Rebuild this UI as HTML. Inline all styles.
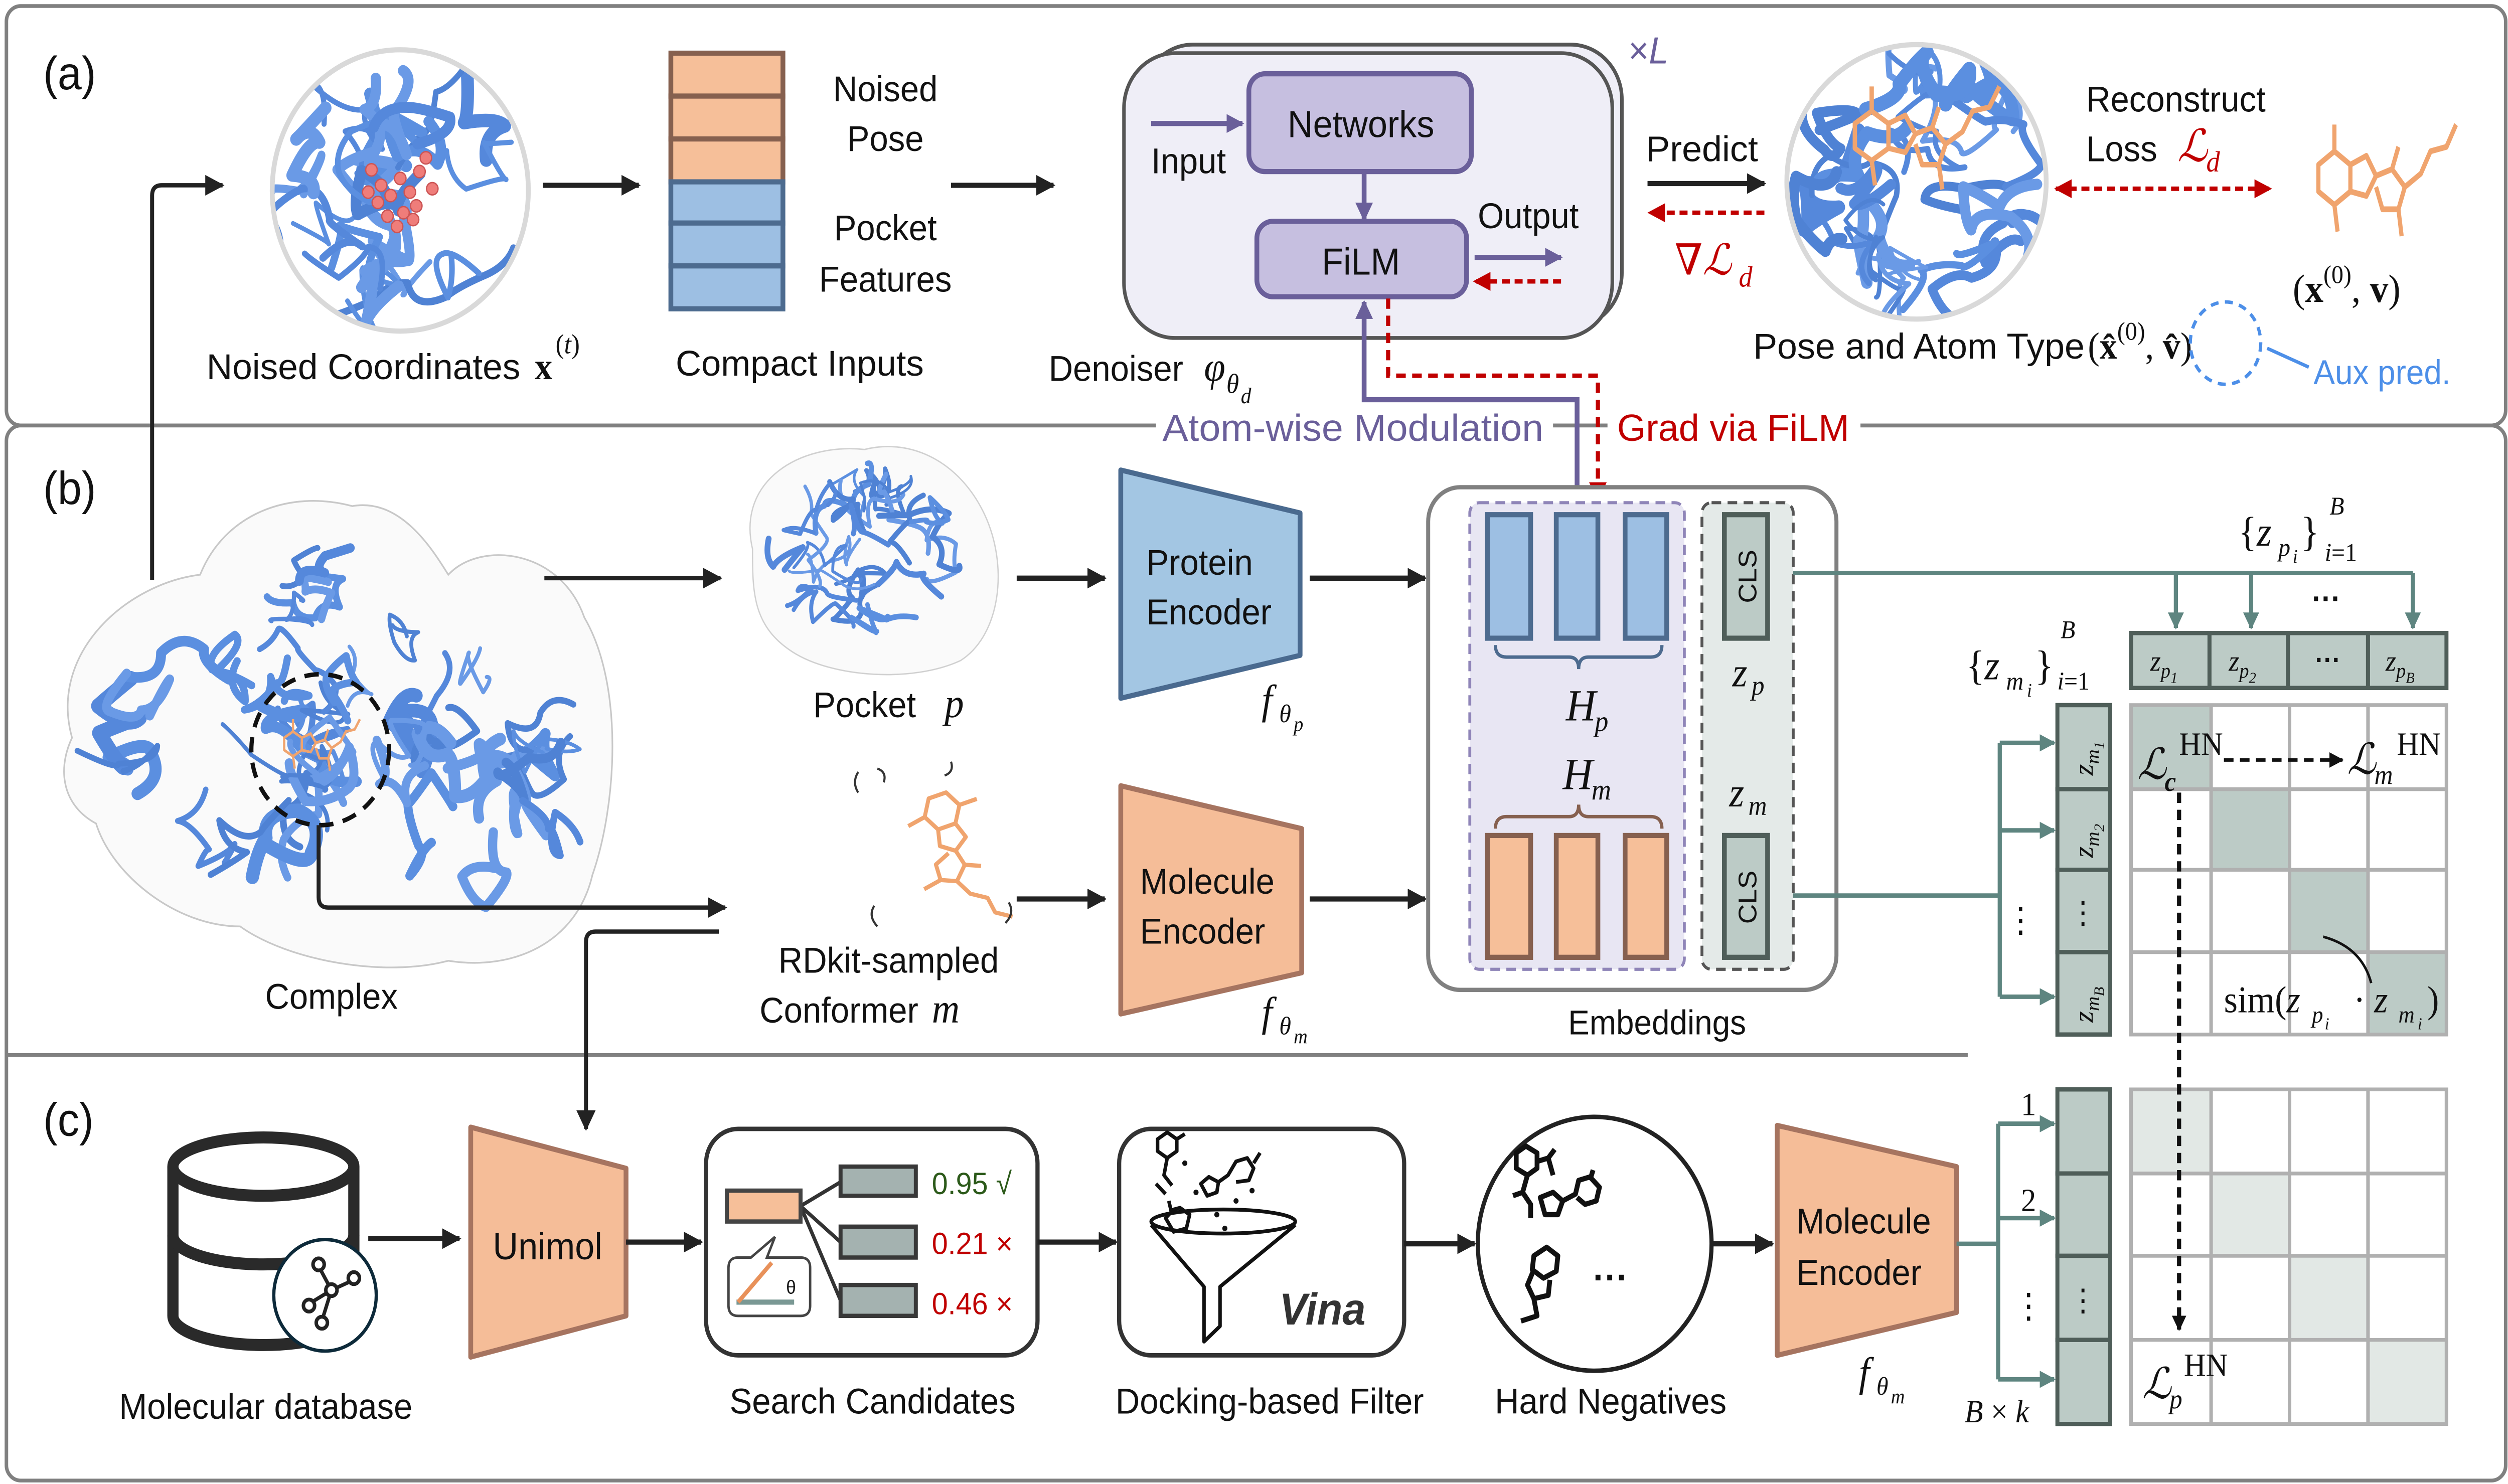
<!DOCTYPE html>
<html><head><meta charset="utf-8">
<style>
html,body{margin:0;padding:0;background:#fff;width:5005px;height:2959px;overflow:hidden;}
svg{display:block;position:absolute;left:0;top:0;width:5005px;height:2959px;}
text{font-family:"Liberation Sans",sans-serif;fill:#111;}
.s{font-family:"Liberation Serif","DejaVu Serif",serif;}
.i{font-style:italic;}
</style></head>
<body>
<svg id="sv" width="5005" height="2959" viewBox="0 0 1568 865" preserveAspectRatio="none" xmlns="http://www.w3.org/2000/svg">
<defs>
<marker id="ab" viewBox="0 0 10 10" refX="9" refY="5" markerWidth="12" markerHeight="13" markerUnits="userSpaceOnUse" orient="auto"><path d="M0,0 L10,5 L0,10 z" fill="#222"/></marker>
<marker id="abs" viewBox="0 0 10 10" refX="9" refY="5" markerWidth="9" markerHeight="9" markerUnits="userSpaceOnUse" orient="auto"><path d="M0,0 L10,5 L0,10 z" fill="#111"/></marker>
<marker id="ar" viewBox="0 0 10 10" refX="9" refY="5" markerWidth="11" markerHeight="12" markerUnits="userSpaceOnUse" orient="auto-start-reverse"><path d="M0,0 L10,5 L0,10 z" fill="#c00000"/></marker>
<marker id="ap" viewBox="0 0 10 10" refX="9" refY="5" markerWidth="11" markerHeight="12" markerUnits="userSpaceOnUse" orient="auto"><path d="M0,0 L10,5 L0,10 z" fill="#6a5f9a"/></marker>
<marker id="at" viewBox="0 0 10 10" refX="9" refY="5" markerWidth="10" markerHeight="10" markerUnits="userSpaceOnUse" orient="auto"><path d="M0,0 L10,5 L0,10 z" fill="#5e8580"/></marker>
<clipPath id="c1"><ellipse cx="250" cy="111" rx="79" ry="81"/></clipPath>
<clipPath id="c2"><ellipse cx="1197" cy="106" rx="80" ry="79"/></clipPath>
<g id="lig"><path d="M10,20 L20,14 L30,20 L30,32 L20,38 L10,32 Z M30,20 L40,16 L46,25 L40,34 L30,32 M20,14 L20,2 M46,25 L56,22 L64,30 L60,40 L50,40 L46,30 M56,22 L60,12 M64,30 L74,24 L80,14 L90,12 L96,2 M20,38 L22,50 M60,40 L62,52" fill="none" stroke="#f0a46e" stroke-width="2.6" stroke-linejoin="round"/></g>
</defs>

<rect x="4" y="3.5" width="1561" height="244.5" rx="9" fill="none" stroke="#808080" stroke-width="2.2"/>
<rect x="4" y="248" width="1561" height="615" rx="9" fill="none" stroke="#808080" stroke-width="2.2"/>
<line x1="4" y1="615" x2="1229" y2="615" stroke="#808080" stroke-width="2.2"/>
<rect x="722" y="238" width="248" height="22" fill="#fff"/>
<rect x="1004" y="238" width="158" height="22" fill="#fff"/>

<text x="27" y="52" font-size="27">(a)</text>
<text x="27" y="294" font-size="27">(b)</text>
<text x="27" y="662" font-size="27">(c)</text>

<!-- (a) -->
<g id="prot1" clip-path="url(#c1)"></g>
<ellipse cx="250" cy="111" rx="80" ry="82" fill="none" stroke="#d9d9d9" stroke-width="3"/>
<g fill="#ef7d7a" stroke="#c55" stroke-width="0.8">
<circle cx="232" cy="99" r="3.6"/><circle cx="238" cy="108" r="3.6"/><circle cx="244" cy="114" r="3.6"/><circle cx="250" cy="104" r="3.6"/><circle cx="256" cy="112" r="3.6"/><circle cx="262" cy="100" r="3.6"/><circle cx="266" cy="92" r="3.6"/><circle cx="260" cy="120" r="3.6"/><circle cx="252" cy="124" r="3.6"/><circle cx="242" cy="126" r="3.6"/><circle cx="236" cy="118" r="3.6"/><circle cx="248" cy="132" r="3.6"/><circle cx="258" cy="128" r="3.6"/><circle cx="270" cy="110" r="3.6"/><circle cx="230" cy="112" r="3.6"/>
</g>
<path d="M95,338 V114 Q95,108 101,108 H139" fill="none" stroke="#222" stroke-width="2.5" marker-end="url(#ab)"/>
<line x1="339" y1="108" x2="399" y2="108" stroke="#222" stroke-width="3" marker-end="url(#ab)"/>
<g stroke-width="3">
<rect x="419" y="31" width="70" height="25" fill="#f6bf99" stroke="#86604f"/>
<rect x="419" y="56" width="70" height="25" fill="#f6bf99" stroke="#86604f"/>
<rect x="419" y="81" width="70" height="25" fill="#f6bf99" stroke="#86604f"/>
<rect x="419" y="106" width="70" height="24" fill="#9dbfe3" stroke="#4d6b8f"/>
<rect x="419" y="130" width="70" height="25" fill="#9dbfe3" stroke="#4d6b8f"/>
<rect x="419" y="155" width="70" height="25" fill="#9dbfe3" stroke="#4d6b8f"/>
</g>
<g font-size="21" text-anchor="middle">
<text x="553" y="59">Noised</text><text x="553" y="88">Pose</text>
<text x="553" y="140">Pocket</text><text x="553" y="170">Features</text>
</g>
<text x="129" y="221" font-size="21" textLength="196" lengthAdjust="spacingAndGlyphs">Noised Coordinates</text>
<text x="334" y="221" font-size="22" class="s" font-weight="bold">x</text>
<text x="347" y="206" font-size="16" class="s">(<tspan class="i">t</tspan>)</text>
<text x="422" y="219" font-size="21" textLength="155" lengthAdjust="spacingAndGlyphs">Compact Inputs</text>
<line x1="594" y1="108" x2="658" y2="108" stroke="#222" stroke-width="3" marker-end="url(#ab)"/>

<rect x="713" y="26" width="300" height="165" rx="32" fill="#efeef7" stroke="#555" stroke-width="2.2"/>
<rect x="702" y="31" width="305" height="166" rx="32" fill="#efeef7" stroke="#555" stroke-width="2.2"/>
<text x="1017" y="37" font-size="22" style="fill:#6a5f9a">×<tspan font-style="italic">L</tspan></text>
<rect x="780" y="43" width="139" height="57" rx="10" fill="#c6bfe0" stroke="#6a5f9a" stroke-width="3"/>
<text x="850" y="80" font-size="22" text-anchor="middle">Networks</text>
<rect x="785" y="129" width="131" height="44" rx="10" fill="#c6bfe0" stroke="#6a5f9a" stroke-width="3"/>
<text x="850" y="160" font-size="22" text-anchor="middle">FiLM</text>
<line x1="852" y1="100" x2="852" y2="128" stroke="#6a5f9a" stroke-width="3" marker-end="url(#ap)"/>
<line x1="719" y1="72" x2="776" y2="72" stroke="#6a5f9a" stroke-width="3" marker-end="url(#ap)"/>
<text x="719" y="101" font-size="21">Input</text>
<line x1="921" y1="150" x2="975" y2="150" stroke="#6a5f9a" stroke-width="3" marker-end="url(#ap)"/>
<text x="923" y="133" font-size="21">Output</text>
<line x1="975" y1="164" x2="921" y2="164" stroke="#c00000" stroke-width="2.6" stroke-dasharray="5,3" marker-end="url(#ar)"/>
<text x="655" y="222" font-size="21">Denoiser</text>
<text x="752" y="222" font-size="24" class="s i">φ</text>
<text x="766" y="229" font-size="16" class="s i">θ</text>
<text x="775" y="235" font-size="13" class="s i">d</text>

<text x="1028" y="94" font-size="21" textLength="70" lengthAdjust="spacingAndGlyphs">Predict</text>
<line x1="1029" y1="107" x2="1102" y2="107" stroke="#222" stroke-width="3" marker-end="url(#ab)"/>
<line x1="1102" y1="124" x2="1030" y2="124" stroke="#c00000" stroke-width="2.6" stroke-dasharray="5,3" marker-end="url(#ar)"/>
<text x="1046" y="160" font-size="25" class="s" style="fill:#c00000">∇<tspan font-style="italic">ℒ</tspan></text>
<text x="1086" y="167" font-size="17" class="s i" style="fill:#c00000">d</text>

<g id="prot2" clip-path="url(#c2)"></g>
<use href="#lig" transform="translate(1148,48) scale(1.05,1.2)"/>
<ellipse cx="1197" cy="106" rx="81" ry="80" fill="none" stroke="#d9d9d9" stroke-width="3"/>
<text x="1303" y="65" font-size="21">Reconstruct</text>
<text x="1303" y="94" font-size="21">Loss</text>
<text x="1360" y="94" font-size="26" class="s i" style="fill:#c00000">ℒ</text>
<text x="1378" y="100" font-size="17" class="s i" style="fill:#c00000">d</text>
<line x1="1284" y1="110" x2="1418" y2="110" stroke="#c00000" stroke-width="2.6" stroke-dasharray="5,3" marker-start="url(#ar)" marker-end="url(#ar)"/>
<use href="#lig" transform="translate(1438,70) scale(1,1.3)"/>
<text x="1432" y="176" font-size="23" class="s"><tspan>(</tspan><tspan font-weight="bold">x</tspan><tspan font-size="15" dy="-11">(0)</tspan><tspan dy="11">, </tspan><tspan font-weight="bold">v</tspan>)</text>
<text x="1095" y="209" font-size="21" textLength="207" lengthAdjust="spacingAndGlyphs">Pose and Atom Type</text>
<text x="1304" y="209" font-size="22" class="s">(<tspan font-weight="bold">x̂</tspan><tspan font-size="15" dy="-11">(0)</tspan><tspan dy="11">, </tspan><tspan font-weight="bold">v̂</tspan>)</text>
<ellipse cx="1390" cy="200" rx="22" ry="24" fill="none" stroke="#4d8fe8" stroke-width="2" stroke-dasharray="5,4"/>
<line x1="1416" y1="203" x2="1442" y2="214" stroke="#4d8fe8" stroke-width="2"/>
<text x="1445" y="224" font-size="20" style="fill:#4d8fe8">Aux pred.</text>

<path d="M985,292 V233 H852 V176" fill="none" stroke="#6a5f9a" stroke-width="3" marker-end="url(#ap)"/>
<path d="M867,174 V219 H998 V291" fill="none" stroke="#c00000" stroke-width="2.6" stroke-dasharray="6,4" marker-end="url(#ar)"/>
<text x="726" y="257" font-size="22" textLength="238" lengthAdjust="spacingAndGlyphs" style="fill:#6a5f9a">Atom-wise Modulation</text>
<text x="1010" y="257" font-size="22" textLength="145" lengthAdjust="spacingAndGlyphs" style="fill:#c00000">Grad via FiLM</text>

<!-- (b) -->
<path d="M45,430 C30,380 80,340 125,335 C140,300 180,285 220,295 C250,290 270,320 280,335 C300,315 350,320 365,360 C390,400 385,470 370,510 C360,550 320,566 280,560 C240,570 180,560 150,540 C110,540 70,510 60,480 C40,470 35,450 45,430 Z" fill="#fafafa" stroke="#c8c8c8" stroke-width="1"/>
<g id="prot3"></g>
<use href="#lig" transform="translate(172,418) scale(0.55,0.6)"/>
<ellipse cx="200" cy="437" rx="43" ry="44" fill="none" stroke="#111" stroke-width="2.6" stroke-dasharray="9,6"/>
<text x="207" y="588" font-size="21" text-anchor="middle">Complex</text>
<path d="M199,481 V523 Q199,529 205,529 H453" fill="none" stroke="#222" stroke-width="2.5" marker-end="url(#ab)"/>
<path d="M449,543 H372 Q366,543 366,549 V658" fill="none" stroke="#222" stroke-width="2.5" marker-end="url(#ab)"/>
<line x1="340" y1="337" x2="450" y2="337" stroke="#222" stroke-width="2.5" marker-end="url(#ab)"/>

<path d="M470,320 C460,280 500,258 540,262 C570,255 600,270 615,300 C630,330 625,370 600,385 C570,398 520,395 495,380 C470,365 470,345 470,320 Z" fill="#fafafa" stroke="#d0d0d0" stroke-width="0.8"/>
<g id="prot4"></g>
<text x="540" y="418" font-size="21" text-anchor="middle">Pocket</text>
<text x="590" y="418" font-size="24" class="s i">p</text>

<line x1="635" y1="337" x2="690" y2="337" stroke="#222" stroke-width="3" marker-end="url(#ab)"/>
<polygon points="700,274 812,299 812,382 700,407" fill="#a3c6e3" stroke="#4a6a8f" stroke-width="3" stroke-linejoin="round"/>
<text x="716" y="335" font-size="21">Protein</text>
<text x="716" y="364" font-size="21">Encoder</text>
<text x="788" y="416" font-size="24" class="s i">f</text>
<text x="799" y="421" font-size="15" class="s i">θ</text><text x="808" y="426" font-size="12" class="s i">p</text>
<line x1="818" y1="337" x2="890" y2="337" stroke="#222" stroke-width="3" marker-end="url(#ab)"/>

<use href="#lig" transform="translate(606,447) rotate(72) scale(0.95)"/>
<g fill="none" stroke="#333" stroke-width="1.3">
<path d="M536,462 q-4,-6 0,-12 M548,448 q6,2 4,8"/>
<path d="M590,452 q6,-2 4,-8"/>
<path d="M546,528 q-4,6 2,12 M630,526 q4,6 -2,12"/>
</g>
<line x1="635" y1="524" x2="690" y2="524" stroke="#222" stroke-width="3" marker-end="url(#ab)"/>
<text x="555" y="567" font-size="21" text-anchor="middle">RDkit-sampled</text>
<text x="524" y="596" font-size="21" text-anchor="middle">Conformer</text>
<text x="582" y="596" font-size="24" class="s i">m</text>
<polygon points="700,458 813,483 813,567 700,591" fill="#f5bd98" stroke="#a67460" stroke-width="3" stroke-linejoin="round"/>
<text x="712" y="521" font-size="21">Molecule</text>
<text x="712" y="550" font-size="21">Encoder</text>
<text x="788" y="598" font-size="24" class="s i">f</text>
<text x="799" y="603" font-size="15" class="s i">θ</text><text x="808" y="608" font-size="12" class="s i">m</text>
<line x1="818" y1="524" x2="890" y2="524" stroke="#222" stroke-width="3" marker-end="url(#ab)"/>

<rect x="892" y="284" width="255" height="293" rx="20" fill="#fff" stroke="#808080" stroke-width="2.5"/>
<rect x="918" y="293" width="134" height="272" rx="6" fill="#e8e6f3" stroke="#8f85b8" stroke-width="1.8" stroke-dasharray="6,4"/>
<rect x="1063" y="293" width="57" height="272" rx="6" fill="#e4eae8" stroke="#555" stroke-width="1.8" stroke-dasharray="6,4"/>
<g stroke-width="3">
<rect x="929" y="300" width="27" height="72" fill="#9dbfe3" stroke="#4d6b8f"/>
<rect x="972" y="300" width="26" height="72" fill="#9dbfe3" stroke="#4d6b8f"/>
<rect x="1015" y="300" width="26" height="72" fill="#9dbfe3" stroke="#4d6b8f"/>
<rect x="929" y="487" width="27" height="71" fill="#f6bf99" stroke="#86604f"/>
<rect x="972" y="487" width="26" height="71" fill="#f6bf99" stroke="#86604f"/>
<rect x="1015" y="487" width="26" height="71" fill="#f6bf99" stroke="#86604f"/>
<rect x="1077" y="300" width="27" height="72" fill="#bccbc6" stroke="#4f5e59"/>
<rect x="1077" y="487" width="27" height="71" fill="#bccbc6" stroke="#4f5e59"/>
</g>
<text transform="translate(1097,336) rotate(-90)" font-size="16" text-anchor="middle">CLS</text>
<text transform="translate(1097,523) rotate(-90)" font-size="16" text-anchor="middle">CLS</text>
<path d="M934,376 Q934,383 941,383 H980 Q986,383 986,390 Q986,383 992,383 H1031 Q1038,383 1038,376" fill="none" stroke="#4d6b8f" stroke-width="2"/>
<path d="M934,483 Q934,476 941,476 H980 Q986,476 986,469 Q986,476 992,476 H1031 Q1038,476 1038,483" fill="none" stroke="#86604f" stroke-width="2"/>
<text x="978" y="420" font-size="26" class="s i">H</text><text x="996" y="426" font-size="17" class="s i">p</text>
<text x="976" y="460" font-size="26" class="s i">H</text><text x="994" y="466" font-size="17" class="s i">m</text>
<text x="1082" y="400" font-size="24" class="s i">z</text><text x="1094" y="405" font-size="16" class="s i">p</text>
<text x="1080" y="470" font-size="24" class="s i">z</text><text x="1092" y="475" font-size="16" class="s i">m</text>
<text x="1035" y="603" font-size="20" text-anchor="middle">Embeddings</text>

<g fill="none" stroke="#5e8580" stroke-width="2.6">
<path d="M1120,334 H1507"/>
<line x1="1359" y1="334" x2="1359" y2="366" marker-end="url(#at)"/>
<line x1="1406" y1="334" x2="1406" y2="366" marker-end="url(#at)"/>
<line x1="1507" y1="334" x2="1507" y2="366" marker-end="url(#at)"/>
<path d="M1120,522 H1249"/>
<path d="M1249,433 V581"/>
<line x1="1249" y1="433" x2="1283" y2="433" marker-end="url(#at)"/>
<line x1="1249" y1="484" x2="1283" y2="484" marker-end="url(#at)"/>
<line x1="1249" y1="581" x2="1283" y2="581" marker-end="url(#at)"/>
</g>
<text x="1453" y="355" font-size="18" text-anchor="middle" font-weight="bold">···</text>
<text x="1262" y="543" font-size="20" text-anchor="middle">⋮</text>
<text x="1398" y="318" font-size="24" class="s">{<tspan class="i">z</tspan></text>
<text x="1423" y="324" font-size="15" class="s i">p</text><text x="1432" y="328" font-size="11" class="s i">i</text>
<text x="1437" y="318" font-size="24" class="s">}</text>
<text x="1455" y="300" font-size="15" class="s i">B</text>
<text x="1452" y="327" font-size="15" class="s"><tspan class="i">i</tspan>=1</text>
<text x="1228" y="396" font-size="24" class="s">{<tspan class="i">z</tspan></text>
<text x="1253" y="402" font-size="15" class="s i">m</text><text x="1266" y="406" font-size="11" class="s i">i</text>
<text x="1271" y="396" font-size="24" class="s">}</text>
<text x="1287" y="372" font-size="15" class="s i">B</text>
<text x="1285" y="402" font-size="15" class="s"><tspan class="i">i</tspan>=1</text>

<g stroke="#4f5e59" stroke-width="2.5" fill="#bccbc6">
<rect x="1331" y="369" width="49" height="32"/><rect x="1380" y="369" width="49" height="32"/><rect x="1429" y="369" width="50" height="32"/><rect x="1479" y="369" width="49" height="32"/>
<rect x="1285" y="411" width="33" height="49"/><rect x="1285" y="460" width="33" height="47"/><rect x="1285" y="507" width="33" height="48"/><rect x="1285" y="555" width="33" height="48"/>
<rect x="1285" y="635" width="33" height="49"/><rect x="1285" y="684" width="33" height="48"/><rect x="1285" y="732" width="33" height="49"/><rect x="1285" y="781" width="33" height="49"/>
</g>
<g font-size="17">
<text x="1343" y="391" class="s i">z<tspan font-size="12" dy="4">p<tspan font-size="9" dy="3">1</tspan></tspan></text>
<text x="1392" y="391" class="s i">z<tspan font-size="12" dy="4">p<tspan font-size="9" dy="3">2</tspan></tspan></text>
<text x="1490" y="391" class="s i">z<tspan font-size="12" dy="4">p<tspan font-size="9" dy="3">B</tspan></tspan></text>
</g>
<text x="1454" y="390" font-size="16" text-anchor="middle" font-weight="bold">···</text>
<g font-size="17">
<text transform="translate(1307,452) rotate(-90)" class="s i">z<tspan font-size="12" dy="4">m<tspan font-size="9" dy="3">1</tspan></tspan></text>
<text transform="translate(1307,500) rotate(-90)" class="s i">z<tspan font-size="12" dy="4">m<tspan font-size="9" dy="3">2</tspan></tspan></text>
<text transform="translate(1307,596) rotate(-90)" class="s i">z<tspan font-size="12" dy="4">m<tspan font-size="9" dy="3">B</tspan></tspan></text>
</g>
<text x="1301" y="538" font-size="18" text-anchor="middle">⋮</text>
<text x="1301" y="764" font-size="18" text-anchor="middle">⋮</text>

<g fill="#bccbc6"><rect x="1331" y="411" width="50" height="49"/><rect x="1381" y="460" width="49" height="47"/><rect x="1430" y="507" width="49" height="48"/><rect x="1479" y="555" width="49" height="48"/></g>
<g fill="#e2e8e5"><rect x="1331" y="635" width="50" height="49"/><rect x="1381" y="684" width="49" height="48"/><rect x="1430" y="732" width="49" height="49"/><rect x="1479" y="781" width="49" height="49"/></g>
<g stroke="#b0b0b0" stroke-width="2.2" fill="none">
<rect x="1331" y="411" width="197" height="192"/>
<path d="M1381,411V603M1430,411V603M1479,411V603M1331,460H1528M1331,507H1528M1331,555H1528"/>
<rect x="1331" y="635" width="197" height="195"/>
<path d="M1381,635V830M1430,635V830M1479,635V830M1331,684H1528M1331,732H1528M1331,781H1528"/>
</g>
<text x="1335" y="454" font-size="25" class="s i">ℒ</text><text x="1352" y="461" font-size="16" class="s i" font-weight="bold">c</text>
<text x="1361" y="440" font-size="19" class="s">HN</text>
<line x1="1389" y1="443" x2="1463" y2="443" stroke="#111" stroke-width="2" stroke-dasharray="6,4" marker-end="url(#abs)"/>
<text x="1466" y="451" font-size="25" class="s i">ℒ</text><text x="1483" y="457" font-size="16" class="s i">m</text>
<text x="1497" y="440" font-size="19" class="s">HN</text>
<line x1="1361" y1="462" x2="1361" y2="775" stroke="#111" stroke-width="2.6" stroke-dasharray="6,4" marker-end="url(#abs)"/>
<path d="M1451,546 Q1475,552 1481,573" fill="none" stroke="#111" stroke-width="1.5"/>
<text x="1389" y="590" font-size="22" class="s">sim(<tspan class="i">z</tspan></text>
<text x="1444" y="596" font-size="14" class="s i">p</text><text x="1452" y="600" font-size="10" class="s i">i</text>
<text x="1470" y="590" font-size="22" class="s">· <tspan class="i">z</tspan></text>
<text x="1498" y="596" font-size="14" class="s i">m</text><text x="1510" y="600" font-size="10" class="s i">i</text>
<text x="1516" y="590" font-size="22" class="s">)</text>
<text x="1338" y="815" font-size="25" class="s i">ℒ</text><text x="1355" y="821" font-size="16" class="s i">p</text>
<text x="1364" y="802" font-size="19" class="s">HN</text>

<!-- (c) -->
<g fill="none" stroke="#2a2a2a" stroke-width="7">
<ellipse cx="164.5" cy="680" rx="56.5" ry="17"/>
<path d="M108,680 V767 A56.5,17 0 0 0 221,767 V680"/>
<path d="M108,720 A56.5,17 0 0 0 221,720"/>
</g>
<ellipse cx="203" cy="755" rx="32" ry="32.5" fill="#fff" stroke="#0d2a3a" stroke-width="2"/>
<g fill="#fff" stroke="#222" stroke-width="2.2"><path d="M199,738 L207,752 L201,770 M207,752 L221,746 M207,752 L193,760" fill="none"/>
<circle cx="199" cy="737" r="3.5"/><circle cx="207" cy="752" r="3.5"/><circle cx="221" cy="745" r="3.5"/><circle cx="193" cy="761" r="3.5"/><circle cx="201" cy="771" r="3.5"/></g>
<text x="166" y="827" font-size="21" text-anchor="middle">Molecular database</text>
<line x1="230" y1="722" x2="287" y2="722" stroke="#222" stroke-width="3" marker-end="url(#ab)"/>
<polygon points="294,657 391,681 391,767 294,791" fill="#f5bd98" stroke="#a67460" stroke-width="3" stroke-linejoin="round"/>
<text x="342" y="734" font-size="22" text-anchor="middle">Unimol</text>
<line x1="391" y1="724" x2="438" y2="724" stroke="#222" stroke-width="3" marker-end="url(#ab)"/>

<rect x="441" y="658" width="207" height="132" rx="20" fill="#fff" stroke="#333" stroke-width="2.6"/>
<g stroke="#333" stroke-width="2.2" fill="none"><path d="M500,703 L525,689 M500,703 L525,724 M500,703 L525,758"/></g>
<rect x="454" y="694" width="46" height="18" fill="#f6bf99" stroke="#444" stroke-width="2.5"/>
<g fill="#a4b2b0" stroke="#383838" stroke-width="2.5"><rect x="525" y="680" width="47" height="17"/><rect x="525" y="715" width="47" height="18"/><rect x="525" y="749" width="47" height="18"/></g>
<text x="582" y="696" font-size="18" style="fill:#2c5a1a">0.95 √</text>
<text x="582" y="731" font-size="18" style="fill:#c00000">0.21 ×</text>
<text x="582" y="766" font-size="18" style="fill:#c00000">0.46 ×</text>
<path d="M461,733 H469 L484,721 L479,733 H500 Q506,733 506,739 V761 Q506,767 500,767 H461 Q455,767 455,761 V739 Q455,733 461,733 Z" fill="#fff" stroke="#444" stroke-width="1.5"/>
<line x1="460" y1="759" x2="496" y2="759" stroke="#7a9894" stroke-width="3"/>
<line x1="461" y1="759" x2="482" y2="736" stroke="#e8915a" stroke-width="2.5"/>
<text x="491" y="754" font-size="11">θ</text>
<text x="545" y="824" font-size="21" text-anchor="middle">Search Candidates</text>
<line x1="648" y1="724" x2="697" y2="724" stroke="#222" stroke-width="3" marker-end="url(#ab)"/>

<rect x="699" y="658" width="178" height="132" rx="20" fill="#fff" stroke="#333" stroke-width="2.6"/>
<g fill="none" stroke="#111" stroke-width="2.2" stroke-linejoin="round">
<ellipse cx="764" cy="712" rx="45" ry="7"/>
<path d="M719,714 L752,750 V782 L762,773 V750 L809,714"/>
<path d="M723,664 l6,-4 l6,4 l0,7 l-6,4 l-6,-4 z M735,664 l5,-3 M729,675 l-2,10 l5,6 M722,690 l6,6 M730,700 l2,8 M750,690 l5,-4 l6,3 l-1,6 l-6,2 z M761,689 l6,-4 l5,-8 l7,-2 l4,6 l-3,7 l-8,1 M783,678 l4,-6 M733,705 l-5,5 l5,8 l8,-2 l2,-8 l-6,-4 z"/>
</g>
<g fill="#111"><circle cx="747" cy="695" r="1.6"/><circle cx="760" cy="708" r="1.6"/><circle cx="772" cy="700" r="1.6"/><circle cx="782" cy="694" r="1.6"/><circle cx="765" cy="716" r="1.6"/><circle cx="740" cy="678" r="1.6"/></g>
<text x="799" y="772" font-size="26" font-weight="bold" font-style="italic" style="fill:#333">Vina</text>
<text x="793" y="824" font-size="21" text-anchor="middle">Docking-based Filter</text>
<line x1="877" y1="725" x2="921" y2="725" stroke="#222" stroke-width="3" marker-end="url(#ab)"/>

<ellipse cx="996" cy="725" rx="73" ry="74" fill="#fff" stroke="#222" stroke-width="2.6"/>
<g fill="none" stroke="#111" stroke-width="3" stroke-linejoin="round">
<path d="M947,672 l6,-4 l7,4 l0,9 l-6,4 l-7,-4 z M960,677 l7,-2 l4,-5 M967,675 l3,10 M954,685 l-3,10 l-6,2 M951,695 l5,7 l0,8"/>
<path d="M962,698 l8,-3 l6,5 l-3,8 l-8,0 z M976,700 l8,-4 l2,-8 l7,-2 l6,6 l-2,8 l-7,2 l-5,-4 M993,688 l2,-6"/>
<path d="M958,732 l8,-5 l7,5 l-1,9 l-8,4 l-7,-5 z M958,740 l-4,9 l4,8 l9,-2 l1,-9 M958,757 l2,10 l-10,3"/>
</g>
<text x="995" y="752" font-size="22" font-weight="bold">···</text>
<text x="1006" y="824" font-size="21" text-anchor="middle">Hard Negatives</text>
<line x1="1069" y1="725" x2="1107" y2="725" stroke="#222" stroke-width="3" marker-end="url(#ab)"/>
<polygon points="1110,656 1222,680 1222,765 1110,790" fill="#f5bd98" stroke="#a67460" stroke-width="3" stroke-linejoin="round"/>
<text x="1122" y="719" font-size="21">Molecule</text>
<text x="1122" y="749" font-size="21">Encoder</text>
<text x="1161" y="808" font-size="24" class="s i">f</text>
<text x="1172" y="813" font-size="15" class="s i">θ</text><text x="1181" y="818" font-size="12" class="s i">m</text>
<g fill="none" stroke="#5e8580" stroke-width="2.6">
<path d="M1222,725 H1248"/><path d="M1248,655 V804"/>
<line x1="1248" y1="655" x2="1283" y2="655" marker-end="url(#at)"/>
<line x1="1248" y1="710" x2="1283" y2="710" marker-end="url(#at)"/>
<line x1="1248" y1="804" x2="1283" y2="804" marker-end="url(#at)"/>
</g>
<text x="1267" y="650" font-size="19" class="s" text-anchor="middle">1</text>
<text x="1267" y="706" font-size="19" class="s" text-anchor="middle">2</text>
<text x="1267" y="768" font-size="20" text-anchor="middle">⋮</text>
<text x="1227" y="829" font-size="19" class="s"><tspan class="i">B</tspan> × <tspan class="i">k</tspan></text>
</svg>
<script>
(function(){
var s=12345;function r(){s=(s*16807)%2147483647;return s/2147483647;}
var NS="http://www.w3.org/2000/svg";
function rib(id,cx,cy,rx,ry,n,wmin,wmax){
 var g=document.getElementById(id);
 for(var i=0;i<n;i++){
  var pts=[];var k=4+Math.floor(r()*3);
  var a=r()*6.283,rr=Math.sqrt(r());
  var x=cx+Math.cos(a)*rx*rr,y=cy+Math.sin(a)*ry*rr;
  for(var j=0;j<k;j++){pts.push([x,y]);var b=r()*6.283;x+=Math.cos(b)*rx*0.3;y+=Math.sin(b)*ry*0.3;
   var dx=(x-cx)/rx,dy=(y-cy)/ry;if(dx*dx+dy*dy>1){x=cx+(x-cx)*0.6;y=cy+(y-cy)*0.6;}}
  var d="M"+pts[0][0].toFixed(1)+","+pts[0][1].toFixed(1);
  for(var j=1;j<pts.length;j++){var p=pts[j-1],q=pts[j];var mx=(p[0]+q[0])/2+(r()-0.5)*rx*0.3,my=(p[1]+q[1])/2+(r()-0.5)*ry*0.3;d+=" Q"+mx.toFixed(1)+","+my.toFixed(1)+" "+q[0].toFixed(1)+","+q[1].toFixed(1);}
  var e=document.createElementNS(NS,"path");e.setAttribute("d",d);e.setAttribute("fill","none");
  var c=["#5b8fe0","#4f82d4","#6a9ae6","#5588db"][Math.floor(r()*4)];
  e.setAttribute("stroke",c);e.setAttribute("stroke-width",(wmin+r()*(wmax-wmin)).toFixed(1));
  e.setAttribute("stroke-linecap","round");e.setAttribute("stroke-linejoin","round");g.appendChild(e);
 }
}
rib("prot1",250,111,85,85,24,2,8);
rib("prot2",1197,106,85,85,26,2,9);
rib("prot3",135,445,90,80,20,2,9);
rib("prot3",300,455,70,85,18,2,8);
rib("prot3",215,370,55,55,9,2,6);
rib("prot4",540,325,62,55,26,1.2,4);
})();
</script>
</body></html>
